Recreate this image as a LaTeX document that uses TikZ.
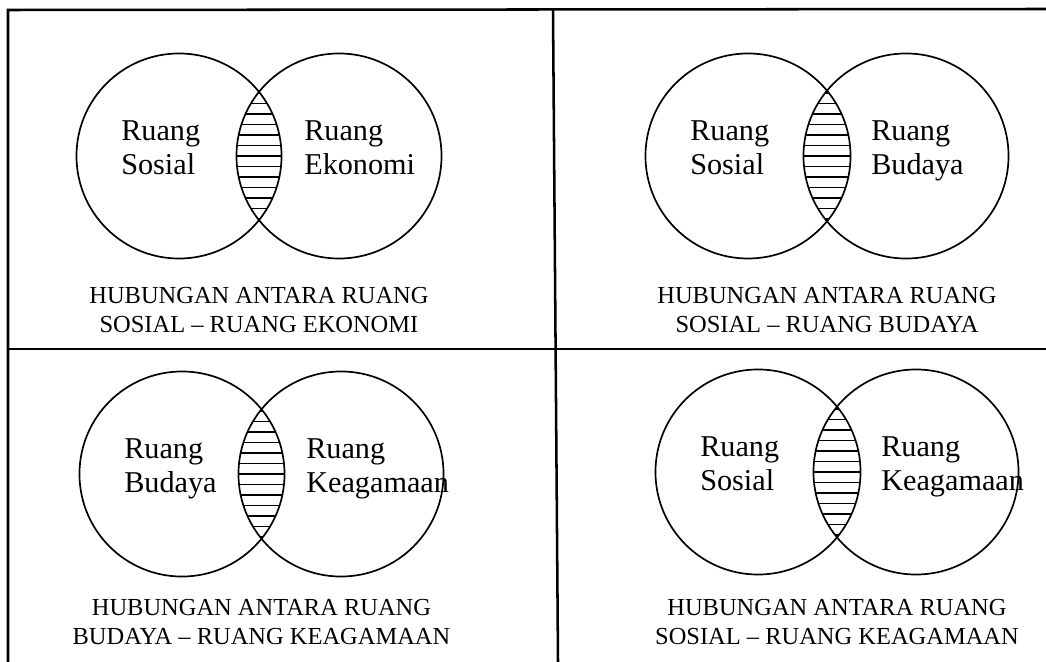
\documentclass[tikz,border=0pt]{standalone}
\usepackage{fontspec}
\setmainfont{Liberation Serif}

\begin{document}
\begin{tikzpicture}[
    x=0.025cm, y=-0.025cm,
    frame/.style={line width=1.8pt},
    ruang/.style={draw, circle, line width=1.2pt, minimum size=5.125cm, inner sep=0pt},
    isi/.style={align=left, anchor=north west, inner sep=0pt, font=\fontsize{21.5}{24.6}\selectfont},
    judul/.style={align=center, inner sep=0pt, font=\fontsize{17.4}{20}\selectfont},
    arsir/.style={line width=0.9pt}
]
\useasboundingbox (0,0) rectangle (1046,662);
% bingkai
\draw[frame] (8,662) -- (8,10) -- (1046,9);
\draw[frame] (553,10) -- (558,662);
\draw[frame] (8,349) -- (1046,349);

\foreach \i/\xa/\xb/\yc/\ya/\la/\lb/\cb in {
    1/179/339/156/310/Sosial/Ekonomi/{SOSIAL – RUANG EKONOMI},
    2/748/906/156/310/Sosial/Budaya/{SOSIAL – RUANG BUDAYA},
    3/182/341/474/622/Budaya/Keagamaan/{BUDAYA – RUANG KEAGAMAAN},
    4/758/916/472/622/Sosial/Keagamaan/{SOSIAL – RUANG KEAGAMAAN}}{
        \node[ruang] (kiri\i) at (\xa,\yc) {};
        \node[ruang] (kanan\i) at (\xb,\yc) {};
        % irisan
        \begin{scope}
            \clip (\xa,\yc) circle[radius=102.5];
            \clip (\xb,\yc) circle[radius=102.5];
            \foreach \k in {-6,...,6}
                \draw[arsir] ({(\xa+\xb)/2-40},{\yc+\k*10.5}) -- ({(\xa+\xb)/2+40},{\yc+\k*10.5});
        \end{scope}
        \node[isi] (teksa\i) at ({\xa-58},{\yc-36}) {Ruang\\\la};
        \node[isi] (teksb\i) at ({\xb-35},{\yc-36}) {Ruang\\\lb};
        \node[judul] (judul\i) at ({(\xa+\xb)/2},\ya) {HUBUNGAN ANTARA RUANG\\\cb};
    }
\end{tikzpicture}
\end{document}
